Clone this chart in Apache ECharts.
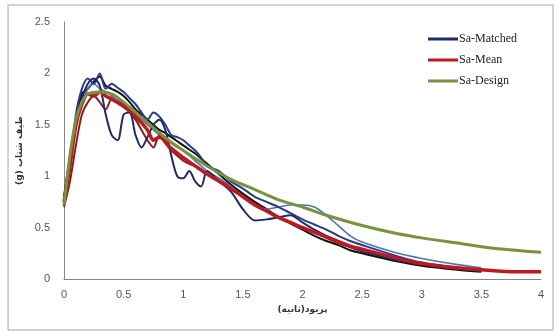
<!DOCTYPE html>
<html>
<head>
<meta charset="utf-8">
<script src="https://cdn.jsdelivr.net/npm/echarts@6/dist/echarts.min.js"></script>
<style>
  html, body { margin: 0; padding: 0; background: #fff; }
  #chart { width: 557px; height: 336px; }
</style>
</head>
<body>
<div id="chart"></div>
<script>
// Periods (s) and spectral accelerations (g)
const periodsMatched = [0, 0.05, 0.1, 0.15, 0.2, 0.25, 0.3, 0.35, 0.4, 0.45, 0.5, 0.55, 0.6, 0.65, 0.7, 0.75, 0.8, 0.85, 0.9, 0.95, 1.0, 1.05, 1.1, 1.15, 1.2, 1.3, 1.4, 1.5, 1.6, 1.7, 1.8, 1.9, 2.0, 2.1, 2.2, 2.3, 2.4, 2.5, 2.8, 3.0, 3.3, 3.5];

const matched1 = [0.78, 1.1, 1.5, 1.75, 1.9, 1.95, 1.88, 1.6, 1.4, 1.35, 1.6, 1.62, 1.4, 1.28, 1.38, 1.5, 1.55, 1.45, 1.2, 1.0, 0.98, 1.05, 0.95, 0.9, 1.05, 0.95, 0.85, 0.68, 0.57, 0.58, 0.6, 0.62, 0.55, 0.48, 0.42, 0.37, 0.31, 0.27, 0.18, 0.14, 0.1, 0.08];
const matched2 = [0.8, 1.2, 1.55, 1.8, 1.85, 1.92, 1.97, 1.88, 1.85, 1.82, 1.78, 1.72, 1.65, 1.6, 1.55, 1.5, 1.45, 1.42, 1.38, 1.34, 1.3, 1.26, 1.22, 1.17, 1.12, 1.02, 0.92, 0.83, 0.75, 0.68, 0.6, 0.54, 0.48, 0.42, 0.37, 0.33, 0.28, 0.25, 0.17, 0.13, 0.09, 0.07];
const matched3 = [0.75, 1.15, 1.5, 1.7, 1.85, 1.9, 1.85, 1.82, 1.78, 1.74, 1.7, 1.65, 1.6, 1.55, 1.5, 1.45, 1.4, 1.36, 1.32, 1.28, 1.25, 1.2, 1.15, 1.1, 1.05, 0.98, 0.9, 0.8, 0.72, 0.68, 0.7, 0.72, 0.72, 0.7, 0.62, 0.52, 0.42, 0.36, 0.25, 0.2, 0.14, 0.11];
const matched4 = [0.72, 1.1, 1.6, 1.85, 1.95, 1.9, 2.0, 1.85, 1.9, 1.86, 1.82, 1.76, 1.7, 1.62, 1.55, 1.62, 1.58, 1.5, 1.4, 1.38, 1.35, 1.3, 1.25, 1.18, 1.1, 1.05, 0.95, 0.88, 0.8, 0.75, 0.7, 0.64, 0.58, 0.53, 0.48, 0.42, 0.37, 0.33, 0.22, 0.16, 0.11, 0.09];
const matched5 = [0.7, 0.95, 1.3, 1.6, 1.72, 1.78, 1.72, 1.65, 1.75, 1.72, 1.7, 1.62, 1.55, 1.45, 1.35, 1.28, 1.4, 1.32, 1.25, 1.2, 1.15, 1.12, 1.1, 1.06, 1.02, 0.95, 0.88, 0.8, 0.72, 0.66, 0.6, 0.55, 0.5, 0.45, 0.4, 0.35, 0.31, 0.28, 0.2, 0.15, 0.11, 0.09];

const periodsMean = [0, 0.05, 0.1, 0.15, 0.2, 0.25, 0.3, 0.35, 0.4, 0.5, 0.6, 0.7, 0.75, 0.8, 0.9, 1.0, 1.1, 1.2, 1.3, 1.4, 1.5, 1.6, 1.7, 1.8, 1.9, 2.0, 2.2, 2.4, 2.5, 2.8, 3.0, 3.2, 3.5, 3.8, 4.0];
const saMean = [0.75, 1.1, 1.5, 1.7, 1.8, 1.78, 1.82, 1.78, 1.75, 1.68, 1.58, 1.45, 1.35, 1.38, 1.27, 1.18, 1.1, 1.02, 0.95, 0.88, 0.8, 0.72, 0.66, 0.6, 0.55, 0.5, 0.41, 0.32, 0.29, 0.2, 0.15, 0.12, 0.09, 0.07, 0.07];

const periodsDesign = [0, 0.05, 0.1, 0.15, 0.2, 0.3, 0.4, 0.5, 0.6, 0.7, 0.8, 0.9, 1.0, 1.2, 1.4, 1.6, 1.8, 2.0, 2.2, 2.5, 2.8, 3.0, 3.3, 3.6, 4.0];
const saDesign = [0.72, 1.2, 1.55, 1.72, 1.8, 1.82, 1.8, 1.72, 1.62, 1.52, 1.42, 1.33, 1.25, 1.1, 0.97, 0.87, 0.77, 0.7, 0.62, 0.52, 0.44, 0.4, 0.35, 0.3, 0.26];

const xTicks = { min: 0, max: 4, interval: 0.5 };
const yTicks = { min: 0, max: 2.5, interval: 0.5 };

const pairs = (xs, ys) => xs.map((x, i) => [x, ys[i]]);

const chart = echarts.init(document.getElementById('chart'));

function lineSeries(name, xs, ys, color, width, z) {
  return {
    name: name,
    type: 'line',
    data: pairs(xs, ys),
    smooth: 0.3,
    showSymbol: false,
    z: z,
    lineStyle: { color: color, width: width },
    itemStyle: { color: color }
  };
}

chart.setOption({
  animation: false,
  graphic: [{
    type: 'rect',
    shape: { x: 8, y: 5, width: 545, height: 325 },
    style: { fill: 'none', stroke: '#a6a6a6', lineWidth: 1 }
  }],
  grid: { left: 64, right: 16, top: 22, bottom: 57 },
  legend: {
    data: ['Sa-Matched', 'Sa-Mean', 'Sa-Design'],
    orient: 'vertical',
    left: 423,
    top: 28,
    itemWidth: 30,
    itemHeight: 3,
    itemGap: 9,
    icon: 'rect',
    textStyle: { fontFamily: 'Liberation Serif', fontSize: 12, color: '#222', padding: [0, 0, 0, -4] }
  },
  xAxis: {
    type: 'value',
    min: xTicks.min, max: xTicks.max, interval: xTicks.interval,
    name: '(پریود(ثانیه',
    nameLocation: 'middle',
    nameGap: 22,
    nameTextStyle: { fontFamily: 'DejaVu Sans', fontSize: 9, fontWeight: 'bold', color: '#333' },
    axisLine: { lineStyle: { color: '#868686' } },
    axisTick: { show: false },
    axisLabel: { fontFamily: 'Liberation Sans', fontSize: 11, color: '#555', margin: 10 },
    splitLine: { show: false }
  },
  yAxis: {
    type: 'value',
    min: yTicks.min, max: yTicks.max, interval: yTicks.interval,
    name: '(g) طیف شتاب',
    nameLocation: 'middle',
    nameGap: 35,
    nameRotate: 90,
    nameTextStyle: { fontFamily: 'DejaVu Sans', fontSize: 9, fontWeight: 'bold', color: '#333' },
    axisLine: { show: true, lineStyle: { color: '#868686' } },
    axisTick: { show: false },
    axisLabel: { fontFamily: 'Liberation Sans', fontSize: 11, color: '#555', margin: 14 },
    splitLine: { show: false }
  },
  series: [
    lineSeries('Sa-Matched', periodsMatched, matched1, '#1f2a6b', 2, 5),
    lineSeries('Matched-2', periodsMatched, matched2, '#111111', 2, 4),
    lineSeries('Matched-3', periodsMatched, matched3, '#4a78b8', 1.6, 4),
    lineSeries('Matched-4', periodsMatched, matched4, '#283b8c', 2, 4),
    lineSeries('Matched-5', periodsMatched, matched5, '#8e1b1b', 2, 4),
    lineSeries('Sa-Mean', periodsMean, saMean, '#c0181c', 3.5, 6),
    lineSeries('Sa-Design', periodsDesign, saDesign, '#77933c', 3, 7)
  ]
});
</script>
</body>
</html>
